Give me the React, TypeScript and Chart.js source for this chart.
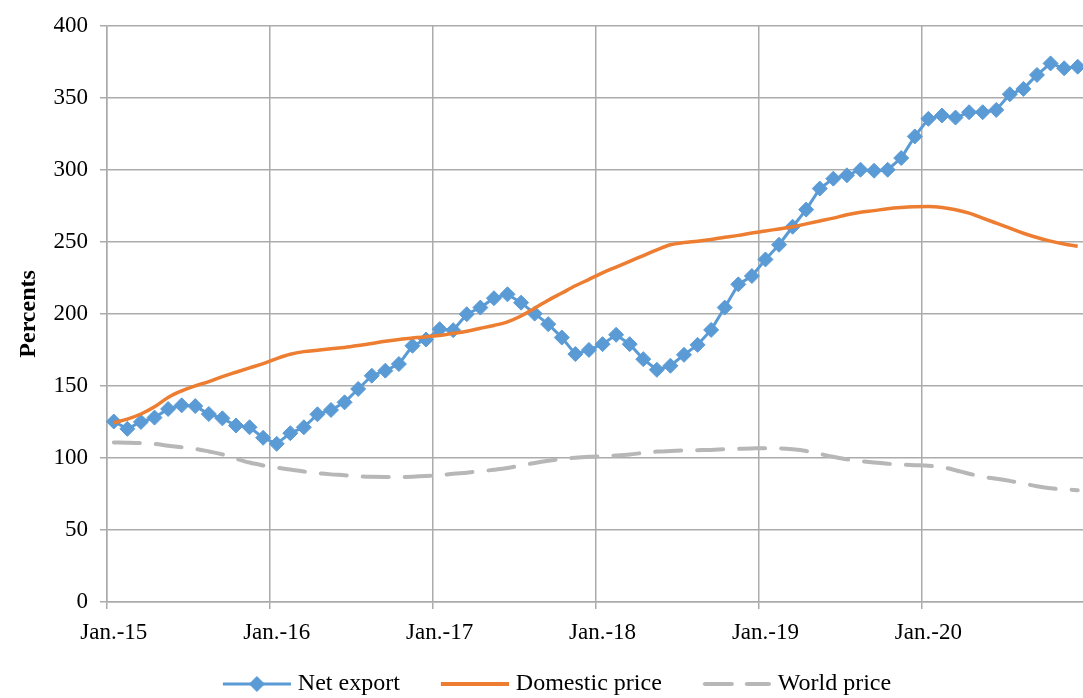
import React, { useEffect, useRef } from 'react';
import { Chart, registerables } from 'chart.js';

Chart.register(...registerables);

// Monthly categories Jan 2015 .. Dec 2020
const monthNames = ['Jan.', 'Feb.', 'Mar.', 'Apr.', 'May', 'Jun.', 'Jul.', 'Aug.', 'Sep.', 'Oct.', 'Nov.', 'Dec.'];
const years = ['15', '16', '17', '18', '19', '20'];
const categories: string[] = [];
years.forEach((y) => monthNames.forEach((m) => categories.push(m + '-' + y)));

const tickLabels = ['Jan.-15', 'Jan.-16', 'Jan.-17', 'Jan.-18', 'Jan.-19', 'Jan.-20'];
const yTicks = [0, 50, 100, 150, 200, 250, 300, 350, 400];

const netExport = [
  125.3, 120.2, 125.0, 128.0, 134.0, 136.5, 136.0, 130.5, 127.5, 122.5, 121.3, 114.0,
  109.8, 117.2, 121.3, 130.3, 133.3, 138.6, 147.9, 157.1, 160.6, 165.2, 177.9, 182.2,
  189.4, 188.7, 199.8, 204.4, 210.9, 213.6, 207.8, 200.2, 192.9, 183.6, 172.1, 175.0,
  179.0, 185.5, 179.0, 168.6, 161.2, 164.0, 171.6, 178.5, 188.9, 204.4, 220.5, 226.3,
  237.8, 248.0, 260.5, 272.4, 287.0, 293.9, 296.2, 300.1, 299.4, 300.1, 308.2, 323.2,
  335.4, 337.7, 336.3, 340.0, 340.0, 341.6, 352.5, 356.2, 365.9, 373.9, 370.5, 371.6,
];

const domesticPrice = [
  124.5, 127.0, 130.5, 135.5, 142.0, 146.5, 150.0, 153.0, 156.5, 159.5, 162.5, 165.5,
  169.0, 172.0, 173.8, 174.8, 175.8, 176.7, 178.0, 179.5, 181.0, 182.2, 183.2, 184.2,
  185.0, 186.5, 188.0, 190.0, 192.0, 194.5, 198.5, 204.0, 209.5, 214.5, 219.5, 224.0,
  228.5, 232.5, 236.5, 240.5, 244.5, 248.0, 249.5, 250.5, 251.7, 253.2, 254.5, 256.2,
  257.5, 259.0, 260.5, 262.5, 264.5, 266.5, 268.8, 270.5, 271.7, 273.0, 273.8, 274.3,
  274.5, 273.8, 272.3, 270.0, 266.5, 263.0, 259.5, 256.0, 253.0, 250.5, 248.5, 247.0,
];

const worldPrice = [
  110.8, 110.6, 110.3, 109.7, 108.5, 107.4, 106.3, 104.5, 102.5, 99.5, 96.8, 94.8,
  93.2, 92.0, 90.6, 89.4, 88.6, 88.0, 87.3, 86.9, 86.8, 86.8, 87.0, 87.4,
  88.0, 89.0, 89.8, 90.8, 91.8, 93.0, 94.8, 96.5, 98.0, 99.3, 100.2, 100.8,
  101.2, 101.7, 102.4, 103.5, 104.4, 104.9, 105.2, 105.4, 105.6, 106.0, 106.3, 106.6,
  106.8, 106.7, 106.0, 104.8, 102.8, 100.8, 99.0, 97.8, 96.8, 96.0, 95.4, 95.0,
  94.6, 93.6, 91.5, 89.0, 87.0, 85.5, 84.1, 82.2, 80.4, 79.0, 78.2, 77.6,
];

const seriesNames = ['Net export', 'Domestic price', 'World price'];

const BLUE = '#5B9BD5';
const ORANGE = '#ED7D31';
const GRAY = '#B7B7B7';
const GRID = '#ABABAB';
const FONT = "'Liberation Serif', 'Times New Roman', serif";

// legend symbol images: 94 px wide, symbol drawn from x=26 to x=94
function makeIcon(kind: number): HTMLCanvasElement {
  const c = document.createElement('canvas');
  c.width = 94;
  c.height = 20;
  const ctx = c.getContext('2d')!;
  const y = 10;
  const x0 = 26;
  const x1 = 94;
  if (kind === 0) {
    ctx.strokeStyle = BLUE;
    ctx.lineWidth = 3;
    ctx.beginPath();
    ctx.moveTo(x0, y);
    ctx.lineTo(x1, y);
    ctx.stroke();
    ctx.fillStyle = BLUE;
    const cx = (x0 + x1) / 2;
    ctx.beginPath();
    ctx.moveTo(cx, y - 8);
    ctx.lineTo(cx + 8, y);
    ctx.lineTo(cx, y + 8);
    ctx.lineTo(cx - 8, y);
    ctx.closePath();
    ctx.fill();
  } else if (kind === 1) {
    ctx.strokeStyle = ORANGE;
    ctx.lineWidth = 4;
    ctx.beginPath();
    ctx.moveTo(x0, y);
    ctx.lineTo(x1, y);
    ctx.stroke();
  } else {
    ctx.strokeStyle = GRAY;
    ctx.lineWidth = 4;
    ctx.lineCap = 'round';
    ctx.beginPath();
    ctx.moveTo(x0 + 2, y);
    ctx.lineTo(x0 + 29, y);
    ctx.moveTo(x0 + 44, y);
    ctx.lineTo(x1 - 2, y);
    ctx.stroke();
  }
  return c;
}

export default function App() {
  const ref = useRef<HTMLCanvasElement>(null);

  useEffect(() => {
    document.body.style.margin = '0';
    document.body.style.overflow = 'hidden';
    const icons = [makeIcon(0), makeIcon(1), makeIcon(2)];
    const chart = new Chart(ref.current!, {
      type: 'line',
      data: {
        labels: categories,
        datasets: [
          {
            label: seriesNames[0],
            data: netExport,
            borderColor: BLUE,
            backgroundColor: BLUE,
            borderWidth: 3,
            tension: 0,
            pointStyle: 'rectRot',
            pointRadius: 7.5,
            pointBorderWidth: 1,
            pointBackgroundColor: BLUE,
            pointBorderColor: BLUE,
            clip: false,
            order: 3,
          },
          {
            label: seriesNames[1],
            data: domesticPrice,
            borderColor: ORANGE,
            backgroundColor: ORANGE,
            borderWidth: 3.5,
            cubicInterpolationMode: 'monotone',
            pointRadius: 0,
            order: 2,
          },
          {
            label: seriesNames[2],
            data: worldPrice,
            borderColor: GRAY,
            backgroundColor: GRAY,
            borderWidth: 4,
            borderDash: [26, 16],
            borderCapStyle: 'round',
            cubicInterpolationMode: 'monotone',
            pointRadius: 0,
            order: 1,
          },
        ],
      } as any,
      options: {
        responsive: false,
        animation: false,
        devicePixelRatio: 1,
        layout: { padding: { top: 24, left: 0, right: 0, bottom: 0 } },
        plugins: {
          tooltip: { enabled: false },
          legend: {
            position: 'bottom',
            labels: {
              usePointStyle: true,
              pointStyleWidth: 84,
              padding: 20,
              color: '#000',
              font: { family: FONT, size: 24 },
              generateLabels: (ch: any) =>
                ch.data.datasets.map((ds: any, i: number) => ({
                  text: ds.label,
                  pointStyle: icons[i],
                  fillStyle: 'rgba(0,0,0,0)',
                  strokeStyle: 'rgba(0,0,0,0)',
                  lineWidth: 0,
                  hidden: false,
                  datasetIndex: i,
                  fontColor: '#000',
                })),
            },
          },
        },
        scales: {
          x: {
            type: 'category',
            offset: true,
            grid: {
              offset: true,
              color: (c: any) =>
                c.index !== undefined && c.index % 12 === 0 ? GRID : 'rgba(0,0,0,0)',
              lineWidth: 1.5,
              tickLength: 7,
            },
            border: { color: GRID, width: 1.5 },
            ticks: {
              autoSkip: false,
              maxRotation: 0,
              minRotation: 0,
              padding: 10,
              color: '#000',
              font: { family: FONT, size: 23 },
              callback: (_v: any, i: number) => (i % 12 === 0 ? tickLabels[i / 12] : ''),
            },
            afterFit: (s: any) => {
              s.height = 50;
            },
          },
          y: {
            min: yTicks[0],
            max: yTicks[yTicks.length - 1],
            afterBuildTicks: (s: any) => {
              s.ticks = yTicks.map((v) => ({ value: v }));
            },
            ticks: {
              padding: 12,
              color: '#000',
              font: { family: FONT, size: 23 },
            },
            grid: { color: GRID, lineWidth: 1.5, tickLength: 7 },
            border: { color: GRID, width: 1.5 },
            title: {
              display: true,
              text: 'Percents',
              color: '#000',
              font: { family: FONT, size: 24, weight: 'bold' },
              padding: { top: 14, bottom: 0 },
            },
            afterFit: (s: any) => {
              s.width = 107;
            },
          },
        },
      } as any,
    });
    return () => chart.destroy();
  }, []);

  return (
    <div style={{ position: 'fixed', left: 0, top: 0, width: 1083, height: 698, overflow: 'hidden', background: '#fff' }}>
      <canvas ref={ref} width={1093} height={706} style={{ display: 'block', width: '1093px', height: '706px' }} />
    </div>
  );
}
